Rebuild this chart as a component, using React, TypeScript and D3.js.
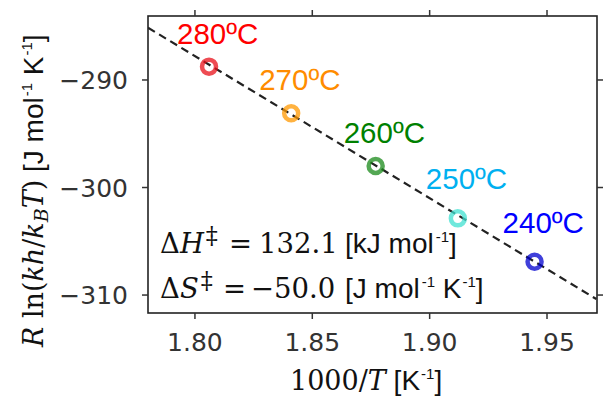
import React from "react";
import * as d3 from "d3";

const temps = ["280ºC", "270ºC", "260ºC", "250ºC", "240ºC"];
const invT = [1.806, 1.841, 1.877, 1.912, 1.9447];
const yVals = [-288.76, -293.1, -298.0, -302.87, -306.9];
const labelColors = ["#ff0000", "#ff8c00", "#008000", "#00b0f0", "#0000ff"];
const markerColors = ["#e8101a", "#ff9800", "#1a8a1a", "#40e0d0", "#0000cd"];
const xTicks = [1.8, 1.85, 1.9, 1.95];
const yTicks = [-290, -300, -310];
const dH = 132.1; // kJ/mol
const dS = -50.0; // J/mol/K
const fitX = [1.78, 1.971];

const W = 604, H = 400;
const left = 148, right = 597, top = 16, bottom = 313;

export default function App() {
  const x = d3.scaleLinear().domain([1.78, 1.9713]).range([left, right]);
  const y = d3.scaleLinear().domain([-284.05, -311.67]).range([top, bottom]);
  const line = d3.line<number>().x((d) => x(d)).y((d) => y(dS - dH * d));
  const tick = 6;
  const tickColor = "#333";
  const sans = "'Liberation Sans', Arial, sans-serif";
  const dv = "'DejaVu Sans', sans-serif";
  const serif = "'DejaVu Serif', serif";
  const mathSize = 27.5;
  const sansSize = 28;
  const supSize = 15;
  return (
    <svg width={W} height={H} style={{ position: "absolute", left: 0, top: 0, background: "#fff" }}>
      <defs>
        <clipPath id="clip">
          <rect x={left} y={top} width={right - left} height={bottom - top} />
        </clipPath>
      </defs>
      {/* frame */}
      <rect x={left} y={top} width={right - left} height={bottom - top} fill="none" stroke="#222" strokeWidth={1.6} />
      {/* x ticks */}
      {xTicks.map((t) => (
        <g key={"x" + t}>
          <line x1={x(t)} x2={x(t)} y1={bottom} y2={bottom + tick} stroke={tickColor} strokeWidth={1.5} />
          <line x1={x(t)} x2={x(t)} y1={top} y2={top - tick} stroke={tickColor} strokeWidth={1.5} />
          <text x={x(t)} y={351} textAnchor="middle" fontFamily={dv} fontSize={25} fill="#333">
            {d3.format(".2f")(t)}
          </text>
        </g>
      ))}
      {/* y ticks */}
      {yTicks.map((t) => (
        <g key={"y" + t}>
          <line x1={left} x2={left - tick} y1={y(t)} y2={y(t)} stroke={tickColor} strokeWidth={1.5} />
          <line x1={right} x2={right + tick} y1={y(t)} y2={y(t)} stroke={tickColor} strokeWidth={1.5} />
          <text x={128} y={y(t) + 9} textAnchor="end" fontFamily={dv} fontSize={25} fill="#333">
            {"\u2212" + Math.abs(t)}
          </text>
        </g>
      ))}
      {/* fit line */}
      <path d={line(fitX) || ""} fill="none" stroke="#222" strokeWidth={2.2} strokeDasharray="8,5" clipPath="url(#clip)" />
      {/* points */}
      {invT.map((v, i) => (
        <circle key={"p" + i} cx={x(v)} cy={y(yVals[i])} r={7} fill="none" stroke={markerColors[i]} strokeWidth={4.5} strokeOpacity={0.75} />
      ))}
      {/* temperature labels */}
      {temps.map((t, i) => (
        <text key={"t" + i} x={x(invT[i]) - 32} y={y(yVals[i]) - (i < 3 ? 23 : 29)} fontFamily={sans} fontSize={29.5} fill={labelColors[i]}>
          {t}
        </text>
      ))}
      {/* annotations */}
      <text x={160} y={253} fontSize={mathSize} fill="#111">
        <tspan fontFamily={serif}>Δ</tspan>
        <tspan fontFamily={serif} fontStyle="italic">H</tspan>
        <tspan fontFamily={serif} fontSize={24} dx={2} dy={-9}>‡</tspan>
        <tspan fontFamily={serif} x={229} dy={9}>=</tspan>
        <tspan fontFamily={serif} x={259}>{dH.toFixed(1)}</tspan>
        <tspan fontFamily={sans} fontSize={sansSize} x={345}>[kJ mol</tspan>
        <tspan fontFamily={sans} fontSize={supSize} dx={2} dy={-11}>-1</tspan>
        <tspan fontFamily={sans} fontSize={sansSize} dy={11}>]</tspan>
      </text>
      <text x={160} y={298} fontSize={mathSize} fill="#111">
        <tspan fontFamily={serif}>Δ</tspan>
        <tspan fontFamily={serif} fontStyle="italic">S</tspan>
        <tspan fontFamily={serif} fontSize={24} dx={2} dy={-9}>‡</tspan>
        <tspan fontFamily={serif} x={223} dy={9}>=</tspan>
        <tspan fontFamily={serif} x={251}>{"\u2212" + Math.abs(dS).toFixed(1)}</tspan>
        <tspan fontFamily={sans} fontSize={sansSize} x={345}>[J mol</tspan>
        <tspan fontFamily={sans} fontSize={supSize} dx={2} dy={-11}>-1</tspan>
        <tspan fontFamily={sans} fontSize={sansSize} dy={11}> K</tspan>
        <tspan fontFamily={sans} fontSize={supSize} dx={1} dy={-11}>-1</tspan>
        <tspan fontFamily={sans} fontSize={sansSize} dy={11}>]</tspan>
      </text>
      {/* x label */}
      <text x={290} y={390} fontSize={27} fill="#111">
        <tspan fontFamily={serif}>1000/</tspan>
        <tspan fontFamily={serif} fontStyle="italic">T</tspan>
        <tspan fontFamily={sans} fontSize={sansSize}> [K</tspan>
        <tspan fontFamily={sans} fontSize={supSize} dx={1} dy={-11}>-1</tspan>
        <tspan fontFamily={sans} fontSize={sansSize} dy={11}>]</tspan>
      </text>
      {/* y label */}
      <text transform="translate(43,347) rotate(-90)" x={0} y={0} fontSize={27} fill="#111">
        <tspan fontFamily={serif} fontStyle="italic">R</tspan>
        <tspan fontFamily={serif}> ln(</tspan>
        <tspan fontFamily={serif} fontStyle="italic">kh</tspan>
        <tspan fontFamily={serif}>/</tspan>
        <tspan fontFamily={serif} fontStyle="italic">k</tspan>
        <tspan fontFamily={serif} fontStyle="italic" fontSize={19} dy={5}>B</tspan>
        <tspan fontFamily={serif} fontStyle="italic" dy={-5}>T</tspan>
        <tspan fontFamily={serif}>)</tspan>
        <tspan fontFamily={sans} fontSize={sansSize}> [J mol</tspan>
        <tspan fontFamily={sans} fontSize={supSize} dx={1} dy={-11}>-1</tspan>
        <tspan fontFamily={sans} fontSize={sansSize} dy={11}> K</tspan>
        <tspan fontFamily={sans} fontSize={supSize} dx={1} dy={-11}>-1</tspan>
        <tspan fontFamily={sans} fontSize={sansSize} dy={11}>]</tspan>
      </text>
    </svg>
  );
}
